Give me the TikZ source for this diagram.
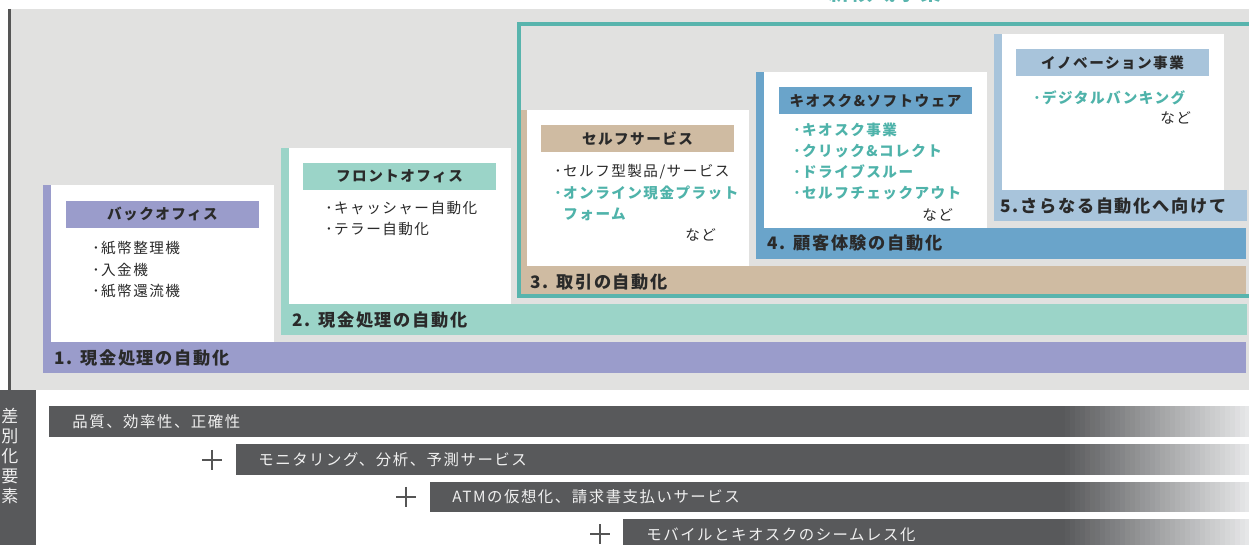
\documentclass[tikz,border=0pt]{standalone}
\usepackage{fontspec}
\setmainfont{Noto Sans CJK JP}
\newfontfamily\jp[LetterSpace=10]{Noto Sans CJK JP}
\definecolor{bggray}{HTML}{E1E1E0}
\definecolor{cP}{HTML}{9A9CCB}
\definecolor{cM}{HTML}{9BD4C8}
\definecolor{cT}{HTML}{CFBBA2}
\definecolor{cB}{HTML}{6AA4CA}
\definecolor{cLB}{HTML}{A8C4DB}
\definecolor{frameteal}{HTML}{58B4AD}
\definecolor{tealtext}{HTML}{4FB3AA}
\definecolor{txt}{HTML}{2A2A2A}
\definecolor{dark}{HTML}{58595B}
\definecolor{light}{HTML}{E6E7E8}
\definecolor{linegray}{HTML}{555555}
\tikzset{
  hdr/.style={font=\jp\bfseries\fontsize{7.3}{9}\selectfont, text=txt, inner sep=0pt,
    minimum width=96.5pt, minimum height=13.5pt},
  item/.style={font=\jp\fontsize{7.3}{9}\selectfont, text=txt, anchor=west, inner sep=0pt},
  titem/.style={item, text=tealtext, font=\jp\bfseries\fontsize{7.3}{9}\selectfont},
  lvl/.style={font=\jp\bfseries\fontsize{8.6}{10}\selectfont, text=txt, anchor=west, inner sep=0pt},
  bot/.style={font=\jp\fontsize{7.7}{10}\selectfont, text=white!94!black, anchor=west, inner sep=0pt},
  plus/.style={draw=linegray, line width=1pt},
  frame/.style={draw=frameteal, line width=2pt},
}
\newcommand\fadebar[3]{%
  \fill[dark] (#1,#2) rectangle (1061,#3);
  \foreach \i in {0,...,37}{%
    \pgfmathtruncatemacro\pc{\i*100/37}%
    \fill[light!\pc!dark] ({1060+\i*5},#2) rectangle ({1066+\i*5},#3);}%
}
\begin{document}
\begin{tikzpicture}[x=0.5pt,y=-0.5pt]
\useasboundingbox (0,0) rectangle (1249,545);
% background
\fill[bggray] (8,9) rectangle (1249,390);
\draw[linegray, line width=1.5pt] (9.5,9) -- (9.5,392);
\node[font=\jp\bfseries\fontsize{10.5}{12}\selectfont, text=frameteal, anchor=base, inner sep=0pt] (title) at (885,1) {新領域事業};

% level 1
\fill[cP] (43,185) rectangle (51,342);
\fill[white] (51,185) rectangle (274,342);
\fill[cP] (43,342) rectangle (1246,373);
\node[hdr, fill=cP] (h1) at (162.5,214.5) {バックオフィス};
\node[item] (i11) at (92,248) {･紙幣整理機};
\node[item] (i12) at (92,270) {･入金機};
\node[item] (i13) at (92,291) {･紙幣還流機};
\node[lvl] (l1) at (54,358) {1. 現金処理の自動化};

% level 2
\fill[cM] (281,148) rectangle (289,304);
\fill[white] (289,148) rectangle (511,304);
\fill[cM] (281,304) rectangle (1247,335);
\node[hdr, fill=cM] (h2) at (399.5,176.5) {フロントオフィス};
\node[item] (i21) at (325,208) {･キャッシャー自動化};
\node[item] (i22) at (325,229) {･テラー自動化};
\node[lvl] (l2) at (292,320) {2. 現金処理の自動化};

% level 3
\fill[cT] (521,110) rectangle (527,266);
\fill[white] (527,110) rectangle (749,266);
\fill[cT] (521,266) rectangle (1246,294);
\node[hdr, fill=cT] (h3) at (637.5,138.5) {セルフサービス};
\node[item] (i31) at (554,172) {･セルフ型製品/サービス};
\node[titem] (i32) at (554,193) {･オンライン現金プラット};
\node[titem] (i33) at (563,214) {フォーム};
\node[item] (i34) at (685,235) {など};
\node[lvl] (l3) at (530,282) {3. 取引の自動化};

% level 4
\fill[cB] (756,72) rectangle (764,228);
\fill[white] (764,72) rectangle (987,228);
\fill[cB] (756,228) rectangle (1246,259);
\node[hdr, fill=cB] (h4) at (875.5,100.5) {キオスク\&ソフトウェア};
\node[titem] (i41) at (793,130) {･キオスク事業};
\node[titem] (i42) at (793,151) {･クリック\&コレクト};
\node[titem] (i43) at (793,172) {･ドライブスルー};
\node[titem] (i44) at (793,193) {･セルフチェックアウト};
\node[item] (i45) at (922,215) {など};
\node[lvl] (l4) at (767,243) {4. 顧客体験の自動化};

% level 5
\fill[cLB] (994,34) rectangle (1002,190);
\fill[white] (1002,34) rectangle (1224,190);
\fill[cLB] (994,190) rectangle (1247,221);
\node[hdr, fill=cLB] (h5) at (1112.5,62.5) {イノベーション事業};
\node[titem] (i51) at (1033,98) {･デジタルバンキング};
\node[item] (i52) at (1160,118) {など};
\node[lvl] (l5) at (1000,206) {5.さらなる自動化へ向けて};

% new-domain frame
\draw[frame] (1260,24.5) -- (519,24.5) -- (519,296) -- (1260,296);

% differentiation section
\fill[dark] (0,390) rectangle (36,550);
\node[font=\fontsize{8.5}{10}\selectfont, text=white!94!black, align=center, inner sep=0pt] (diff) at (10,456) {差\\別\\化\\要\\素};

\fadebar{49}{406}{437}
\node[bot] (b1) at (72,421.5) {品質、効率性、正確性};

\fadebar{236}{444}{475}
\node[bot] (b2) at (258,459.5) {モニタリング、分析、予測サービス};
\draw[plus] (202,460) -- (222,460) (212,450) -- (212,470);

\fadebar{430}{482}{512}
\node[bot] (b3) at (452,497) {ATMの仮想化、請求書支払いサービス};
\draw[plus] (396,497) -- (416,497) (406,487) -- (406,507);

\fadebar{623}{519}{550}
\node[bot] (b4) at (646,535) {モバイルとキオスクのシームレス化};
\draw[plus] (590,534) -- (610,534) (600,524) -- (600,544);
\end{tikzpicture}
\end{document}
